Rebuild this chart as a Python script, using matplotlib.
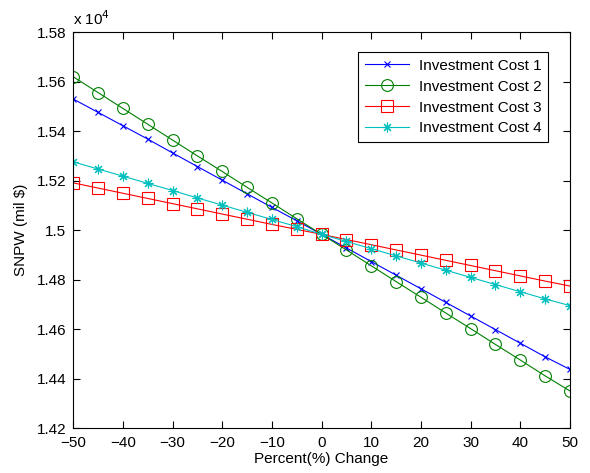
import numpy as np
import matplotlib.pyplot as plt
from matplotlib.ticker import FuncFormatter

# ── Data ────────────────────────────────────────────────────────────────────
pct_change = [-50, -45, -40, -35, -30, -25, -20, -15, -10, -5, 0,
              5, 10, 15, 20, 25, 30, 35, 40, 45, 50]

inv_cost_1 = [15530, 15476, 15422, 15368, 15312, 15257, 15202, 15147, 15092, 15038, 14983,
              14928, 14873, 14818, 14763, 14708, 14653, 14598, 14543, 14488, 14437]
inv_cost_2 = [15620, 15556, 15492, 15428, 15364, 15300, 15237, 15173, 15110, 15046, 14983,
              14920, 14856, 14792, 14729, 14665, 14602, 14538, 14475, 14411, 14350]
inv_cost_3 = [15191, 15170, 15149, 15128, 15107, 15086, 15065, 15044, 15023, 15003, 14983,
              14962, 14941, 14920, 14899, 14878, 14857, 14836, 14815, 14794, 14774]
inv_cost_4 = [15276, 15247, 15218, 15189, 15160, 15130, 15101, 15072, 15043, 15014, 14983,
              14954, 14925, 14896, 14867, 14838, 14809, 14780, 14751, 14722, 14695]

labels = ["Investment Cost 1", "Investment Cost 2", "Investment Cost 3", "Investment Cost 4"]

plt.rcParams['font.family'] = ['Liberation Sans', 'DejaVu Sans']

fig = plt.figure(figsize=(5.9, 4.73), dpi=100)
ax = fig.add_axes([0.124, 0.095, 0.842, 0.837])

ax.plot(pct_change, inv_cost_1, color='#0000ff', lw=0.8, marker='x', ms=4.5, mew=0.8, label=labels[0])
ax.plot(pct_change, inv_cost_2, color='#008000', lw=0.8, marker='o', ms=8.5, mfc='none', mew=0.8, label=labels[1])
ax.plot(pct_change, inv_cost_3, color='#ff0000', lw=0.8, marker='s', ms=8.5, mfc='none', mew=0.8, label=labels[2])
# MATLAB-style asterisk marker
ax.plot(pct_change, inv_cost_4, color='#00bfbf', lw=0.8, marker=(8, 2, 0), ms=7, mew=0.8, label=labels[3])

ax.set_xlim(-50, 50)
ax.set_ylim(14200, 15800)
ax.set_xticks(np.arange(-50, 51, 10))
ax.set_yticks(np.arange(14200, 15801, 200))
ax.yaxis.set_major_formatter(FuncFormatter(lambda v, p: f"{v / 1e4:g}"))
ax.tick_params(direction='in', top=True, right=True, labelsize=11, length=5, width=0.8)
ax.tick_params(axis='x', pad=6)
ax.tick_params(axis='y', pad=5)
for s in ax.spines.values():
    s.set_linewidth(0.8)

ax.text(0, 1.01, r"x 10$^4$", transform=ax.transAxes, fontsize=11, ha='left', va='bottom')

ax.set_xlabel("Percent(%) Change", fontsize=11, labelpad=1)
ax.set_ylabel("SNPW (mil $)", fontsize=11, labelpad=6)

leg = ax.legend(loc='upper right', bbox_to_anchor=(0.956, 0.95), borderaxespad=0, fontsize=11,
                fancybox=False, edgecolor='black', framealpha=1, handlelength=2.9,
                borderpad=0.45, labelspacing=0.45, handletextpad=0.6)
leg.get_frame().set_linewidth(0.8)

fig.savefig("out.png", dpi=100)
